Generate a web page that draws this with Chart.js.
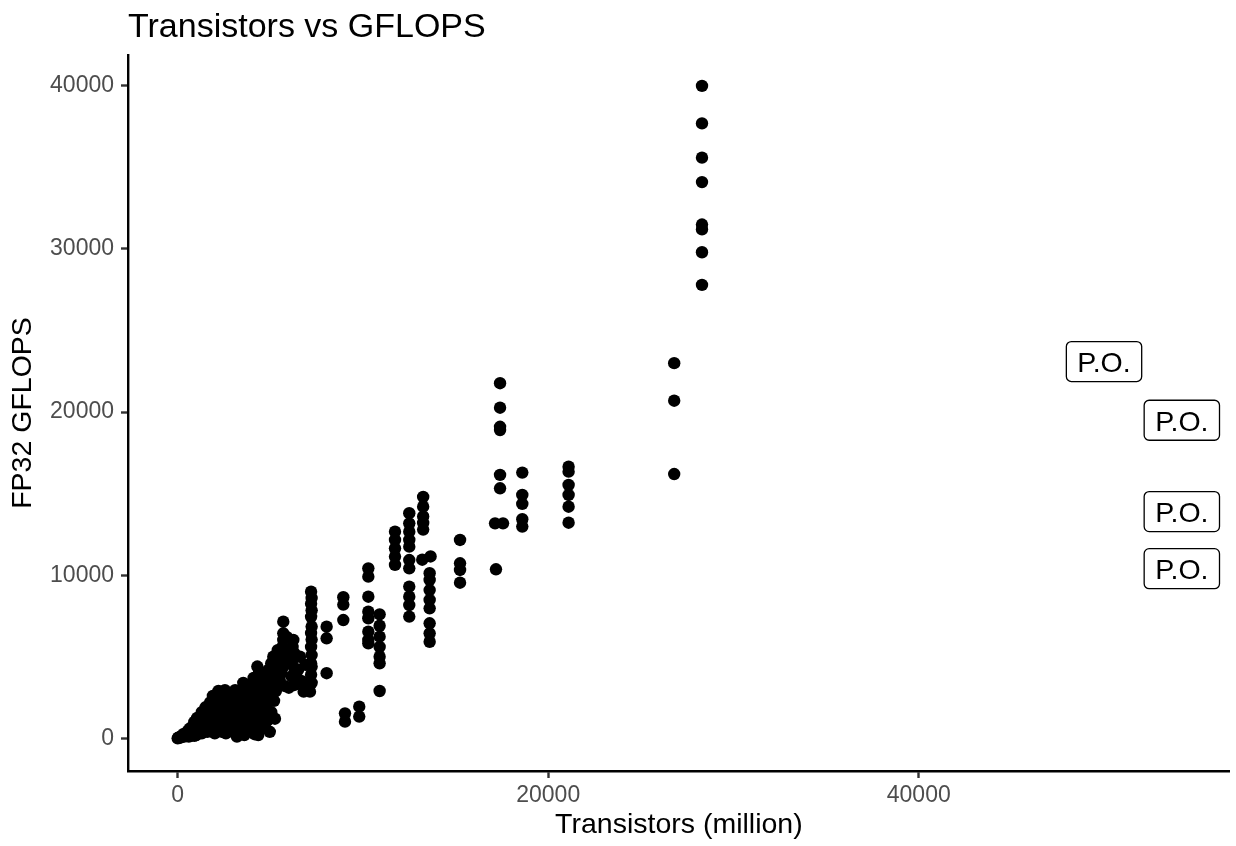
<!DOCTYPE html>
<html>
<head>
<meta charset="utf-8">
<script src="https://cdn.jsdelivr.net/npm/chart.js@4/dist/chart.umd.min.js"></script>
<style>
  body { margin: 0; background: #fff; }
  canvas { display: block; }
</style>
</head>
<body>
<canvas id="scatter_chart" width="1236" height="846"></canvas>
<script>
const chartTitle = 'Transistors vs GFLOPS';
const xTitle = 'Transistors (million)';
const yTitle = 'FP32 GFLOPS';

const xTicks = [0, 20000, 40000];
const xTickLabels = ['0', '20000', '40000'];
const yTicks = [0, 10000, 20000, 30000, 40000];
const yTickLabels = ['0', '10000', '20000', '30000', '40000'];

// transistors (million), one entry per GPU
const transistors = [
  // near the origin
  0, 30, 80, 120, 180, 250, 300, 350, 420, 480, 550, 600, 650, 700, 760, 820, 880, 900, 950, 1000,
  1050, 1100, 1150, 1200, 1300, 1300, 1350, 1400, 1500, 1550, 1600, 1700, 1750, 1800, 1900, 1950, 2000, 2050, 2100, 2200,
  2250, 2300, 2400, 2450, 2550, 2600, 2650, 2700, 2800, 2850, 2950, 3000, 3050, 3100, 3200, 3300, 3350, 3450, 3540, 3550,
  3600, 3650, 3750, 3800, 3900, 3950, 4000, 4050, 4100,
  600, 900, 1200, 1500, 1800, 2100, 2100, 2400, 2400, 2700, 2700, 3000, 3000, 3300, 3300,
  3600, 3600, 3700, 3900, 3900, 4000, 4100, 1600, 1900, 2200, 2500, 2800, 3100, 3400, 4150,
  3200, 4150,
  4300, 4400, 4350, 4300, 4400, 4250, 4350, 4250, 4400, 4300, 4350,
  4600, 4600, 4650, 4600, 4650, 4600,
  5160, 5050, 4900, 5100, 4850, 5000, 4900, 4800, 5050, 4850, 4970, 4700,
  5200, 5250, 5200, 5250,
  5700, 5700, 5700, 5650, 5750, 5600, 5700, 5600, 5500,
  5300, 5400, 5300, 5500, 5800, 5900, 6000, 6000, 6500, 6700, 6900, 6900, 5900, 5400,
  6240, 6200, 6300, 6200, 6300, 6150, 6300, 6800, 6500, 6600,
  7200, 7230, 7200, 7230, 7200, 7230, 7200, 7230, 7200, 7230, 7200, 7230, 7200, 7230, 7140,
  8040, 8040, 8040,
  8940, 8940, 8940,
  9030, 9030,
  9800, 9800,
  10290, 10290, 10290, 10290, 10290, 10290, 10290, 10290,
  10900, 10900, 10900, 10900, 10900, 10900, 10900,
  11730, 11730, 11730, 11730, 11730,
  12500, 12500, 12500, 12500, 12500, 12500, 12500, 12500, 12500, 12500, 12500,
  13250, 13250, 13250, 13250, 13250, 13200,
  13650, 13600, 13600, 13600, 13600, 13600, 13600, 13600, 13600,
  15240, 15240, 15240, 15240,
  17180, 17400, 17400, 17400, 17400, 17400, 17400, 17130, 17560,
  18600, 18600, 18600, 18600, 18600,
  21100, 21100, 21100, 21100, 21100, 21100,
  26800, 26800, 26800,
  28300, 28300, 28300, 28300, 28300, 28300, 28300, 28300
];

// FP32 GFLOPS, same order as transistors
const gflops = [
  0, 40, 30, 90, 60, 150, 250, 100, 300, 180, 450, 250, 600, 150, 400, 750, 300, 1000, 600, 200,
  1250, 850, 450, 1100, 1600, 300, 1300, 800, 1900, 1100, 400, 1500, 2200, 800, 2600, 1900, 300, 1300, 2300, 2900,
  600, 1800, 2500, 1100, 2950, 300, 2100, 1600, 800, 2700, 2300, 400, 1300, 2950, 1900, 700, 2600, 1500, 3400, 3000,
  200, 2300, 1000, 2800, 500, 1800, 3300, 2400, 3700,
  100, 150, 500, 600, 1300, 700, 1600, 400, 1900, 1000, 2300, 1000, 2700, 1200, 2000,
  800, 1700, 3100, 1300, 2200, 600, 2900, 1300, 1000, 2000, 2000, 1300, 1700, 300, 1500,
  100, 250,
  4400, 4100, 3600, 3100, 2700, 2200, 1800, 1230, 900, 450, 200,
  3900, 3300, 2600, 1900, 1300, 700,
  5000, 4600, 4200, 3800, 3400, 3000, 2500, 2000, 1600, 1100, 400, 700,
  4300, 3300, 2300, 1200,
  7150, 6440, 6030, 5600, 5200, 4800, 4400, 4000, 3600,
  4200, 3500, 2900, 4300, 3200, 4700, 5400, 3100, 4200, 3500, 4500, 3100, 6200, 5400,
  6030, 5600, 5200, 4800, 4300, 3800, 3270, 2860, 3600, 5000,
  8990, 8600, 8250, 7850, 7450, 6850, 6450, 6050, 5600, 5100, 4600, 4400, 3900, 3400, 2860,
  6840, 6130, 3990,
  8650, 8200, 7250,
  1530, 1020,
  1940, 1330,
  10420, 9910, 8680, 7760, 7360, 6540, 6030, 5820,
  7600, 6900, 6230, 5600, 5000, 4600, 2900,
  12670, 12160, 11650, 11140, 10630,
  13800, 13180, 12670, 12160, 11750, 10930, 10420, 9300, 8680, 8170, 7460,
  14800, 14200, 13600, 13200, 12800, 10950,
  11150, 10120, 9710, 9090, 8480, 7970, 7050, 6440, 5920,
  12160, 10730, 10320, 9540,
  10360, 21770, 20270, 19100, 18900, 16150, 15330, 13180, 13180,
  16290, 14920, 14370, 13430, 12980,
  16650, 16350, 15530, 14920, 14200, 13220,
  23000, 20700, 16200,
  40000, 37700, 35600, 34100, 31500, 31200, 29800, 27800
];

// boxed "P.O." labels
const poText = ['P.O.', 'P.O.', 'P.O.', 'P.O.'];
const poX = [50000, 54200, 54200, 54200];
const poY = [23100, 19500, 13900, 10400];

const fontFamily = '"Liberation Sans", Arial, Helvetica, sans-serif';
Chart.defaults.font.family = fontFamily;

// title and labels are drawn on top of the points
const poLabels = {
  id: 'poLabels',
  afterDatasetsDraw(chart) {
    const ctx = chart.ctx;
    const xs = chart.scales.x;
    const ys = chart.scales.y;
    ctx.save();
    ctx.font = '28.5px ' + fontFamily;
    ctx.textAlign = 'center';
    ctx.textBaseline = 'alphabetic';
    poText.forEach(function (t, i) {
      const cx = xs.getPixelForValue(poX[i]);
      const cy = ys.getPixelForValue(poY[i]);
      const w = ctx.measureText(t).width + 22;
      const h = 40;
      ctx.beginPath();
      ctx.roundRect(cx - w / 2, cy - h / 2, w, h, 5);
      ctx.fillStyle = '#fff';
      ctx.fill();
      ctx.lineWidth = 1.3;
      ctx.strokeStyle = '#000';
      ctx.stroke();
      ctx.fillStyle = '#000';
      ctx.fillText(t, cx, cy + 10.5);
    });
    ctx.font = '34px ' + fontFamily;
    ctx.textAlign = 'left';
    ctx.fillStyle = '#000';
    ctx.fillText(chartTitle, chart.chartArea.left, 37);
    ctx.restore();
  }
};

const ctxsc = document.getElementById('scatter_chart').getContext('2d');
const chartsc = new Chart(ctxsc, {
  type: 'scatter',
  data: {
    datasets: [{
      data: transistors.map((x, i) => ({ x: x, y: gflops[i] })),
      backgroundColor: '#000',
      borderWidth: 0,
      pointRadius: 6.2,
      pointHoverRadius: 6.2
    }]
  },
  options: {
    responsive: false,
    animation: false,
    events: [],
    layout: { padding: { top: 55, right: 6, left: 0, bottom: 0 } },
    plugins: { legend: { display: false }, tooltip: { enabled: false } },
    scales: {
      x: {
        type: 'linear',
        min: -2682,
        max: 56789,
        afterBuildTicks: s => { s.ticks = xTicks.map(v => ({ value: v })); },
        afterFit: s => { s.height = 75; },
        border: { display: true, color: '#000', width: 2.4 },
        grid: { drawOnChartArea: false, drawTicks: true, tickLength: 7, tickColor: '#333', tickWidth: 2.4 },
        ticks: {
          color: '#4D4D4D', font: { size: 23 }, padding: 4, maxRotation: 0, autoSkip: false,
          callback: (v, i) => xTickLabels[i]
        },
        title: { display: true, text: xTitle, color: '#000', font: { size: 28.5 }, padding: { top: 0, bottom: 4 } }
      },
      y: {
        type: 'linear',
        min: -2005,
        max: 41894,
        afterBuildTicks: s => { s.ticks = yTicks.map(v => ({ value: v })); },
        afterFit: s => { s.width = 128; },
        border: { display: true, color: '#000', width: 2.4 },
        grid: { drawOnChartArea: false, drawTicks: true, tickLength: 7, tickColor: '#333', tickWidth: 2.4 },
        ticks: {
          color: '#4D4D4D', font: { size: 23 }, padding: 7, autoSkip: false,
          callback: (v, i) => yTickLabels[i]
        },
        title: { display: true, text: yTitle, color: '#000', font: { size: 28.5 }, padding: { top: 6, bottom: 0 } }
      }
    }
  },
  plugins: [poLabels]
});
</script>
</body>
</html>
